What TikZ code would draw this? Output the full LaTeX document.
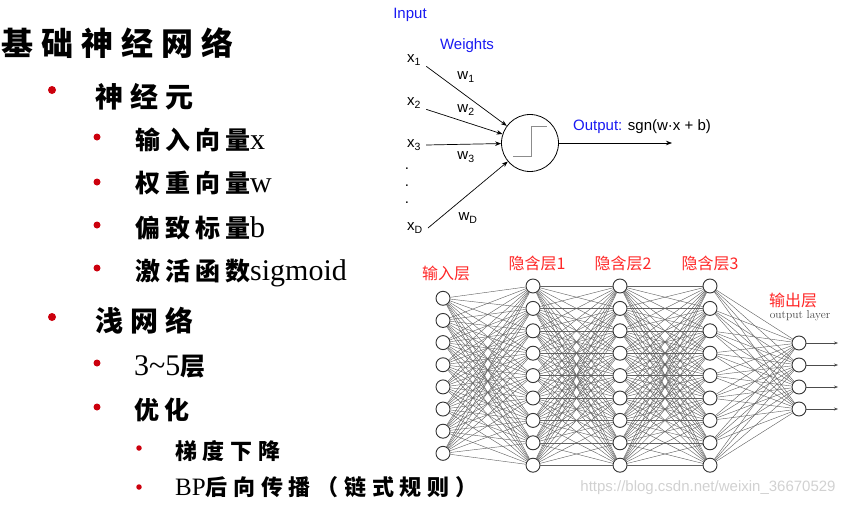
\documentclass[tikz,border=0pt]{standalone}
\usepackage{fontspec}
\setmainfont{Liberation Serif}
\setsansfont{Liberation Sans}
\newfontfamily\cjkT{Noto Sans CJK SC}[LetterSpace=25]
\newfontfamily\cjkA{Noto Sans CJK SC}[LetterSpace=25]
\newfontfamily\cjkB{Noto Sans CJK SC}[LetterSpace=20]
\newfontfamily\cjkC{Noto Sans CJK SC}[LetterSpace=26]
\newfontfamily\cjk{Noto Sans CJK SC}
\usetikzlibrary{arrows.meta,positioning}
\definecolor{bulletred}{rgb}{0.80,0.00,0.05}
\definecolor{layerred}{rgb}{1.00,0.15,0.15}
\definecolor{inblue}{rgb}{0.10,0.10,0.95}
\newcommand{\zhA}[1]{{\fontsize{28}{32}\cjkA\bfseries #1}}
\newcommand{\zhB}[1]{{\fontsize{25}{30}\cjkB\bfseries #1}}
\newcommand{\zhC}[1]{{\fontsize{22}{26}\cjkC\bfseries #1}}

\begin{document}
\begin{tikzpicture}[x=1pt, y=-1pt,
      bulA/.style={circle, fill=bulletred, inner sep=0pt, minimum size=8pt},
      bulB/.style={circle, fill=bulletred, inner sep=0pt, minimum size=7pt},
      bulC/.style={circle, fill=bulletred, inner sep=0pt, minimum size=5.5pt},
      lvA/.style={anchor=base west, inner sep=0pt},
      lvB/.style={anchor=base west, inner sep=0pt, font=\fontsize{30}{34}\selectfont},
      lvC/.style={anchor=base west, inner sep=0pt, font=\fontsize{25}{30}\selectfont},
      plab/.style={font=\sffamily\fontsize{15}{17}\selectfont, inner sep=1pt},
      xlab/.style={plab, anchor=west, inner xsep=5pt},
      warr/.style={-{Stealth[length=6pt, width=4.5pt]}, line width=0.7pt},
      unit/.style={circle, draw=black!80, line width=0.9pt, fill=white,
                   minimum size=14pt, inner sep=0pt},
      link/.style={draw=black!62, line width=0.42pt},
      outarr/.style={-{Stealth[length=4pt, width=3pt]}, draw=black!70, line width=0.5pt},
      layerlab/.style={text=layerred, font=\cjk\fontsize{16}{18}\selectfont, inner sep=0pt}
  ]
    \useasboundingbox (0,0) rectangle (852,506);

    % outline of the slide
    \node[lvA] (title) at (1,55) {\fontsize{32}{36}\cjkT\bfseries 基础神经网络};
    \node[bulA] (b1) at (52,90) {};
    \node[lvA] (t1) at (95,107) {\zhA{神经元}};
    \node[bulB] (b2) at (97,137) {};
    \node[lvB] (t2) at (135,149) {\zhB{输入向量}x};
    \node[bulB] (b3) at (97,182) {};
    \node[lvB] (t3) at (135,192) {\zhB{权重向量}w};
    \node[bulB] (b4) at (97,225) {};
    \node[lvB] (t4) at (135,237) {\zhB{偏致标量}b};
    \node[bulB] (b5) at (97,268) {};
    \node[lvB] (t5) at (135,280) {\zhB{激活函数}sigmoid};
    \node[bulA] (b6) at (52,317) {};
    \node[lvA] (t6) at (95,331) {\zhA{浅网络}};
    \node[bulB] (b7) at (97,363) {};
    \node[lvB] (t7) at (134,375) {3\char"7E 5\zhB{层}};
    \node[bulB] (b8) at (97,407) {};
    \node[lvB] (t8) at (134,419) {\zhB{优化}};
    \node[bulC] (b9) at (139,448) {};
    \node[lvC] (t9) at (175,459) {\zhC{梯度下降}};
    \node[bulC] (b10) at (139,487) {};
    \node[lvC] (t10) at (175,495) {BP\zhC{后向传播（链式规则）}};

    % perceptron
    \node[plab, text=inblue] (input) at (410,15) {Input};
    \node[plab, text=inblue] (weights) at (467,46) {Weights};
    \node[circle, draw, line width=0.8pt, minimum size=57pt, inner sep=0pt] (neuron) at (530,143) {};
    \draw[black!45, line width=0.9pt] ([shift={(-17,13)}]neuron.center) -- ++(18,0) -- ++(0,-30) -- ++(16,0);
    \node[xlab] (x1) at (402,60) {x\textsubscript{1}};
    \node[xlab] (x2) at (402,103) {x\textsubscript{2}};
    \node[xlab] (x3) at (402,145) {x\textsubscript{3}};
    \node[xlab] (xD) at (402,228) {x\textsubscript{D}};
    \node[plab, align=center, font=\sffamily\fontsize{15}{17}\selectfont] (dots) at (407,186) {.\\.\\.};
    \draw[warr] (x1.south east) -- (neuron);
    \draw[warr] (x2.south east) -- (neuron);
    \draw[warr] (x3.east) -- (neuron);
    \draw[warr] (xD.east) -- (neuron);
    \node[plab] (w1) at (466,77) {w\textsubscript{1}};
    \node[plab] (w2) at (466,110) {w\textsubscript{2}};
    \node[plab] (w3) at (466,157) {w\textsubscript{3}};
    \node[plab] (wD) at (468,218) {w\textsubscript{D}};
    \coordinate (outend) at (672,143);
    \draw[warr] (neuron) -- (outend);
    \node[plab, anchor=west] (outlab) at (572,127) {\textcolor{inblue}{Output:} sgn(w·x + b)};

    % deep network
    \foreach \i in {1,...,8}
      \node[unit] (i\i) at (443,{298.3+22.15*(\i-1)}) {};
    \foreach \j in {1,...,9} {
      \node[unit] (a\j) at (533,{286+22.4*(\j-1)}) {};
      \node[unit] (b\j) at (620,{286+22.4*(\j-1)}) {};
      \node[unit] (c\j) at (710,{286+22.4*(\j-1)}) {};
    }
    \foreach \k in {1,...,4}
      \node[unit] (o\k) at (799,{343+22*(\k-1)}) {};
    \foreach \i in {1,...,8}
      \foreach \j in {1,...,9}
        \draw[link] (i\i) -- (a\j);
    \foreach \j in {1,...,9}
      \foreach \m in {1,...,9} {
        \draw[link] (a\j) -- (b\m);
        \draw[link] (b\j) -- (c\m);
      }
    \foreach \j in {1,...,9}
      \foreach \k in {1,...,4}
        \draw[link] (c\j) -- (o\k);
    \foreach \k in {1,...,4} {
      \coordinate (e\k) at (838,{343+22*(\k-1)});
      \draw[outarr] (o\k) -- (e\k);
    }
    \node[layerlab] (lin) at (446,273) {输入层};
    \node[layerlab] (lh1) at (537,263) {隐含层1};
    \node[layerlab] (lh2) at (623,263) {隐含层2};
    \node[layerlab] (lh3) at (710,263) {隐含层3};
    \node[layerlab] (lout) at (793,300) {输出层};
    \node[font=\rmfamily\fontsize{11.5}{12}\fontfamily{lmr}\selectfont, text=black!72, inner sep=0pt] (lout2) at (800,316) {output layer};

    % watermark
    \node[font=\sffamily\fontsize{15}{16}\selectfont, text=black!18, inner sep=0pt] (mark) at (708,488) {https://blog.csdn.net/weixin\_36670529};
  \end{tikzpicture}
\end{document}
